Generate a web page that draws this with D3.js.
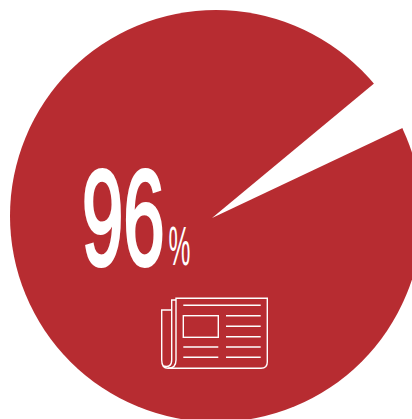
<!DOCTYPE html>
<html><head><meta charset="utf-8">
<style>html,body{margin:0;padding:0;background:#fff;overflow:hidden}svg{display:block}</style>
<script src="https://cdn.jsdelivr.net/npm/d3@7"></script></head><body>
<script>
const sliceNames = ["yes","gap"];
const sliceValues = [96,4];
const mainLabel = "96";
const unitLabel = "%";
const W=412,H=419;
const svg=d3.select("body").append("svg").attr("width",W).attr("height",H);
const red="#b72c31";
const pie=d3.pie().sort(null).startAngle(64.7*Math.PI/180).endAngle((64.7+360)*Math.PI/180);
const arcs=pie(sliceValues);
const g=svg.append("g").attr("transform","translate(216,216)");
g.append("path").attr("d",d3.arc().innerRadius(0).outerRadius(206)({startAngle:0,endAngle:2*Math.PI})).attr("fill",red);
g.append("path").attr("transform","translate(-4,2)").attr("d",d3.arc().innerRadius(0).outerRadius(300)(arcs[1])).attr("fill","#fff");
const f="'Liberation Sans',sans-serif";
svg.append("text").text(mainLabel).attr("transform","translate(82,264.5) scale(0.55,1)")
  .attr("font-family",f).attr("font-weight",400).attr("font-size",135).attr("fill","#fff")
  .attr("stroke","#fff").attr("stroke-width",3.2).attr("vector-effect","non-scaling-stroke");
svg.append("text").text(unitLabel).attr("transform","translate(168.5,265) scale(0.44,1)")
  .attr("font-family",f).attr("font-weight",400).attr("font-size",56).attr("fill","#fff");
const ic=svg.append("g").attr("fill","none").attr("stroke","#fff").attr("stroke-width",1.4);
ic.append("path").attr("d","M176,368.3 H261 Q267.3,368.3 267.3,362 V298.3 H176 V360 Q176,368.3 168,368.3");
ic.append("path").attr("d","M176,300 H171.7 V360 Q171.7,368.3 163,366");
ic.append("path").attr("d","M171.7,310 H161.7 V360 Q161.7,368.3 168,368.3 H176");
ic.append("rect").attr("x",183.3).attr("y",315.7).attr("width",35).attr("height",21.6);
const lines=[[183.3,260.7,305.3],[226,260.7,315.7],[226,260.7,326.3],[226,260.7,336.7],[226,260.7,347],[226,260.7,357.3],[183.3,218.3,347],[183.3,218.3,357.3]];
ic.selectAll("line").data(lines).join("line").attr("x1",d=>d[0]).attr("x2",d=>d[1]).attr("y1",d=>d[2]).attr("y2",d=>d[2]);
</script></body></html>
